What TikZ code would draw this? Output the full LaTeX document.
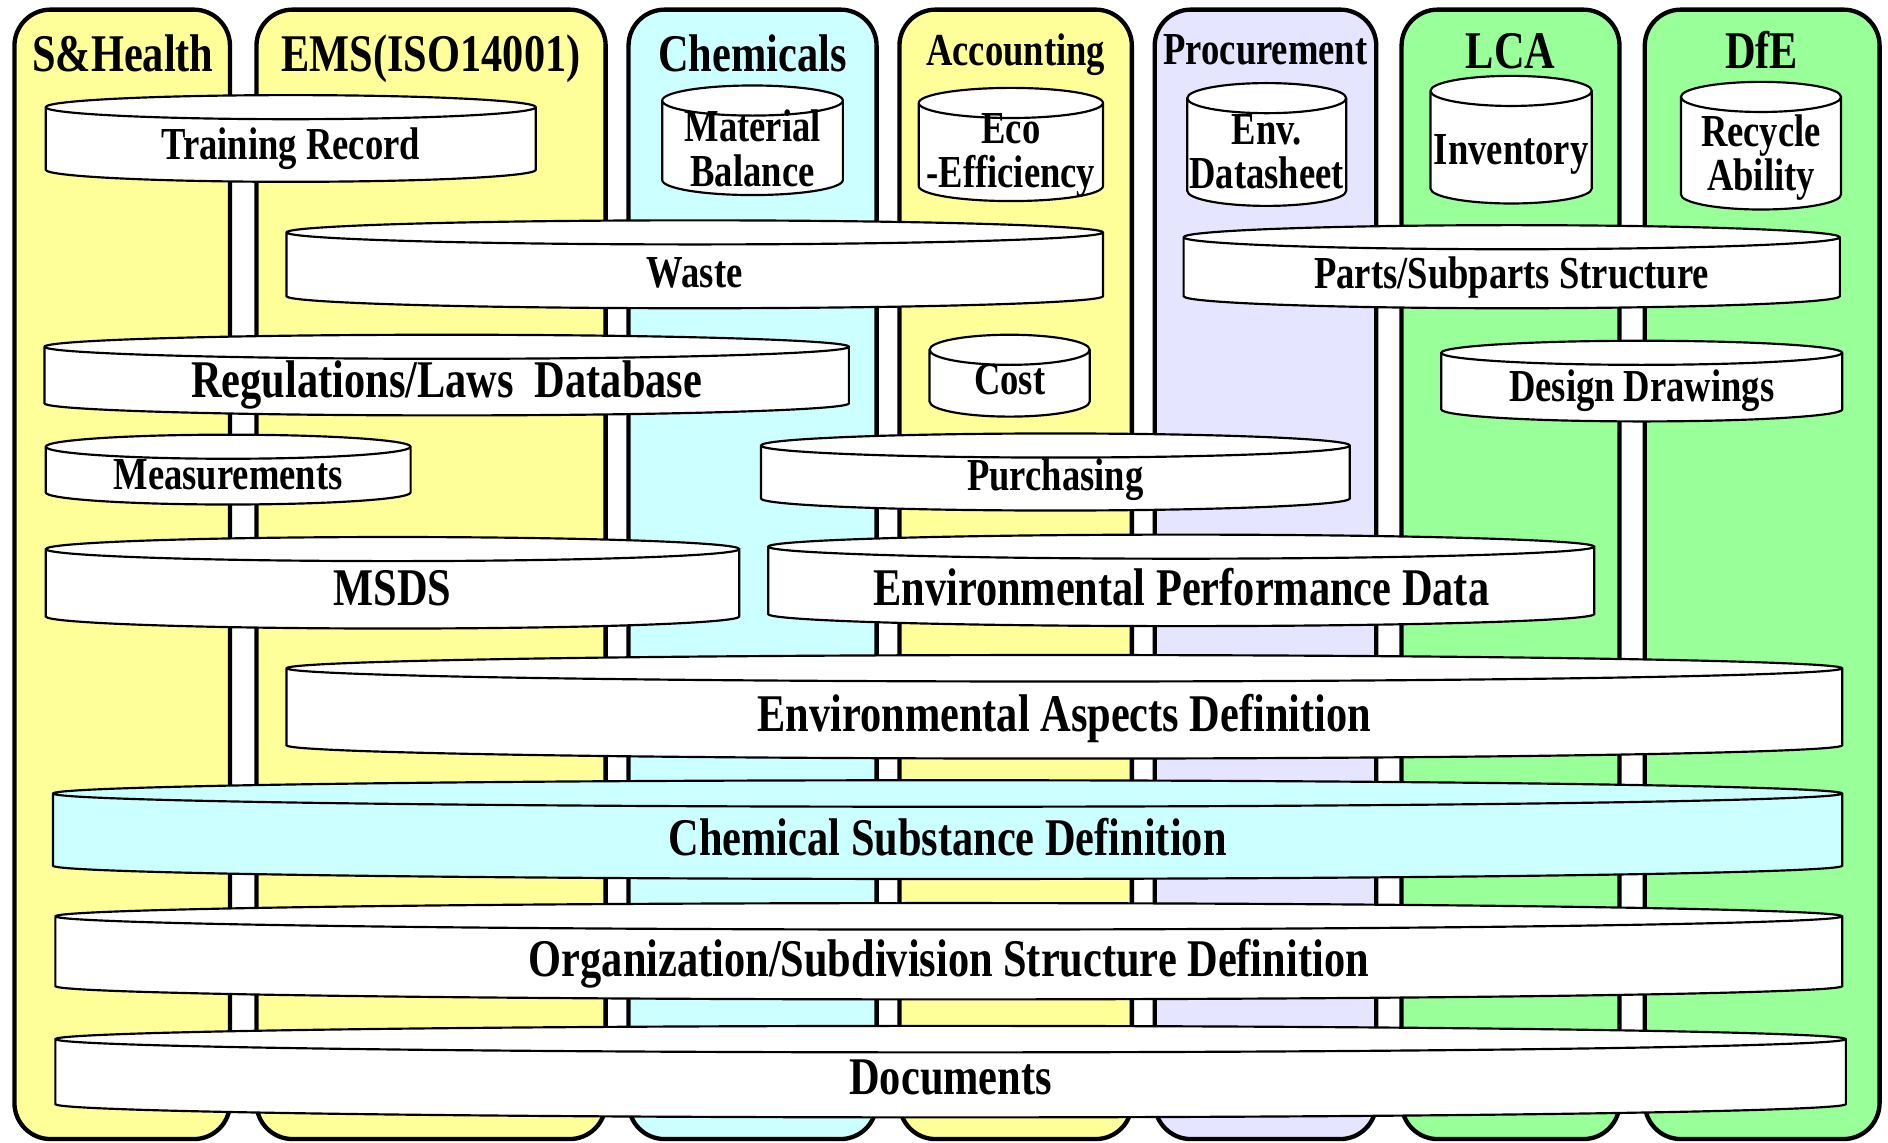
\documentclass[tikz,border=0pt]{standalone}
\usepackage{fontspec}
\setmainfont{Liberation Serif}[FakeStretch=0.8]
\definecolor{shyellow}{HTML}{FFFF99}
\definecolor{chemcyan}{HTML}{CCFFFF}
\definecolor{proclilac}{HTML}{E5E5FF}
\definecolor{lcagreen}{HTML}{99FF99}
\tikzset{
  lane/.style={line width=3.6, rounded corners=30},
  can/.style={fill=white, line width=1.8, y radius=10},
  slimcan/.style={can, y radius=12.5},
  widecan/.style={can, y radius=11},
  big/.style={font=\bfseries\fontsize{44}{46}\selectfont, text height=30pt, text depth=9.7pt},
  small/.style={font=\bfseries\fontsize{38}{37}\selectfont, text height=25.8pt, text depth=8.4pt},
  twoline/.style={font=\bfseries\fontsize{38}{37}\selectfont, align=center},
}

\begin{document}
\begin{tikzpicture}[x=1pt, y=-1pt]
\useasboundingbox (0,0) rectangle (1568,949);
%Lanes
\filldraw[lane, fill=shyellow] (12,8) rectangle (191,946);
\filldraw[lane, fill=shyellow] (213,8) rectangle (503,946);
\filldraw[lane, fill=chemcyan] (522,8) rectangle (728,946);
\filldraw[lane, fill=shyellow] (747,8) rectangle (940,946);
\filldraw[lane, fill=proclilac] (959,8) rectangle (1143,946);
\filldraw[lane, fill=lcagreen] (1164,8) rectangle (1345,946);
\filldraw[lane, fill=lcagreen] (1366,8) rectangle (1561,946);
\node[big] (shealth) at (102,49) {S\&Health};
\node[big] (ems) at (358,49) {EMS(ISO14001)};
\node[big] (chem) at (625,49) {Chemicals};
\node[small] (acct) at (843.5,46) {Accounting};
\node[small] (proc) at (1051,45) {Procurement};
\node[big] (lca) at (1254.5,47) {LCA};
\node[big] (dfe) at (1463,47) {DfE};
%Top row
\filldraw[can, x radius=203.5] (38,89) -- (38,141) arc[start angle=180, end angle=0] -- (445,89) arc[start angle=0, end angle=-180] -- cycle (38,89) arc[start angle=180, end angle=0];
\node[small] (trainrec) at (241.5,124) {Training Record};
\filldraw[slimcan, x radius=75] (550,83.5) -- (550,149.5) arc[start angle=180, end angle=0] -- (700,83.5) arc[start angle=0, end angle=-180] -- cycle (550,83.5) arc[start angle=180, end angle=0];
\node[twoline] (matbal) at (625,123) {Material\\Balance};
\filldraw[slimcan, x radius=76.5] (763,85.5) -- (763,154.5) arc[start angle=180, end angle=0] -- (916,85.5) arc[start angle=0, end angle=-180] -- cycle (763,85.5) arc[start angle=180, end angle=0];
\node[twoline] (ecoeff) at (839.5,129) {Eco\\-Efficiency};
\filldraw[slimcan, x radius=66] (986,81.5) -- (986,158.5) arc[start angle=180, end angle=0] -- (1118,81.5) arc[start angle=0, end angle=-180] -- cycle (986,81.5) arc[start angle=180, end angle=0];
\node[twoline] (envsheet) at (1052,126) {Env.\\Datasheet};
\filldraw[slimcan, x radius=67] (1188,75.5) -- (1188,156.5) arc[start angle=180, end angle=0] -- (1322,75.5) arc[start angle=0, end angle=-180] -- cycle (1188,75.5) arc[start angle=180, end angle=0];
\node[small] (inventory) at (1255,128) {Inventory};
\filldraw[slimcan, x radius=66.5] (1396,80.5) -- (1396,161.5) arc[start angle=180, end angle=0] -- (1529,80.5) arc[start angle=0, end angle=-180] -- cycle (1396,80.5) arc[start angle=180, end angle=0];
\node[twoline] (recycle) at (1462.5,131) {Recycle\\Ability};
%Second row
\filldraw[can, x radius=339] (238,193) -- (238,246) arc[start angle=180, end angle=0] -- (916,193) arc[start angle=0, end angle=-180] -- cycle (238,193) arc[start angle=180, end angle=0];
\node[small] (waste) at (577,230) {Waste};
\filldraw[can, x radius=272.5] (983,197) -- (983,246) arc[start angle=180, end angle=0] -- (1528,197) arc[start angle=0, end angle=-180] -- cycle (983,197) arc[start angle=180, end angle=0];
\node[small] (parts) at (1255.5,231) {Parts/Subparts Structure};
\filldraw[can, x radius=334] (37,288) -- (37,335) arc[start angle=180, end angle=0] -- (705,288) arc[start angle=0, end angle=-180] -- cycle (37,288) arc[start angle=180, end angle=0];
\node[big] (regdb) at (371,320) {Regulations/Laws\ \ Database};
\filldraw[slimcan, x radius=66.5] (772,290.5) -- (772,333.5) arc[start angle=180, end angle=0] -- (905,290.5) arc[start angle=0, end angle=-180] -- cycle (772,290.5) arc[start angle=180, end angle=0];
\node[small] (cost) at (838.5,319) {Cost};
\filldraw[can, x radius=166.5] (1197,293) -- (1197,340) arc[start angle=180, end angle=0] -- (1530,293) arc[start angle=0, end angle=-180] -- cycle (1197,293) arc[start angle=180, end angle=0];
\node[small] (drawings) at (1363.5,325) {Design Drawings};
\filldraw[can, x radius=151.5] (38,371) -- (38,409) arc[start angle=180, end angle=0] -- (341,371) arc[start angle=0, end angle=-180] -- cycle (38,371) arc[start angle=180, end angle=0];
\node[small] (measure) at (189.5,398) {Measurements};
\filldraw[can, x radius=244.5] (632,370) -- (632,414) arc[start angle=180, end angle=0] -- (1121,370) arc[start angle=0, end angle=-180] -- cycle (632,370) arc[start angle=180, end angle=0];
\node[small] (purchase) at (876.5,399) {Purchasing};
\filldraw[can, x radius=288] (38,456) -- (38,512) arc[start angle=180, end angle=0] -- (614,456) arc[start angle=0, end angle=-180] -- cycle (38,456) arc[start angle=180, end angle=0];
\node[big] (msds) at (326,493) {MSDS};
\filldraw[can, x radius=343] (638,454) -- (638,510) arc[start angle=180, end angle=0] -- (1324,454) arc[start angle=0, end angle=-180] -- cycle (638,454) arc[start angle=180, end angle=0];
\node[big] (perfdata) at (981,493) {Environmental Performance Data};
%Base layers
\filldraw[widecan, x radius=646] (238,555) -- (238,619) arc[start angle=180, end angle=0] -- (1530,555) arc[start angle=0, end angle=-180] -- cycle (238,555) arc[start angle=180, end angle=0];
\node[big] (aspects) at (884,597) {Environmental Aspects Definition};
\filldraw[widecan, fill=chemcyan, x radius=743] (44,659) -- (44,719) arc[start angle=180, end angle=0] -- (1530,659) arc[start angle=0, end angle=-180] -- cycle (44,659) arc[start angle=180, end angle=0];
\node[big] (chemdef) at (787,700) {Chemical Substance Definition};
\filldraw[widecan, x radius=742] (46,761) -- (46,819) arc[start angle=180, end angle=0] -- (1530,761) arc[start angle=0, end angle=-180] -- cycle (46,761) arc[start angle=180, end angle=0];
\node[big] (orgdef) at (788,801) {Organization/Subdivision Structure Definition};
\filldraw[widecan, x radius=743.5] (46,863) -- (46,917) arc[start angle=180, end angle=0] -- (1533,863) arc[start angle=0, end angle=-180] -- cycle (46,863) arc[start angle=180, end angle=0];
\node[big] (docs) at (789.5,899) {Documents};
\end{tikzpicture}
\end{document}
